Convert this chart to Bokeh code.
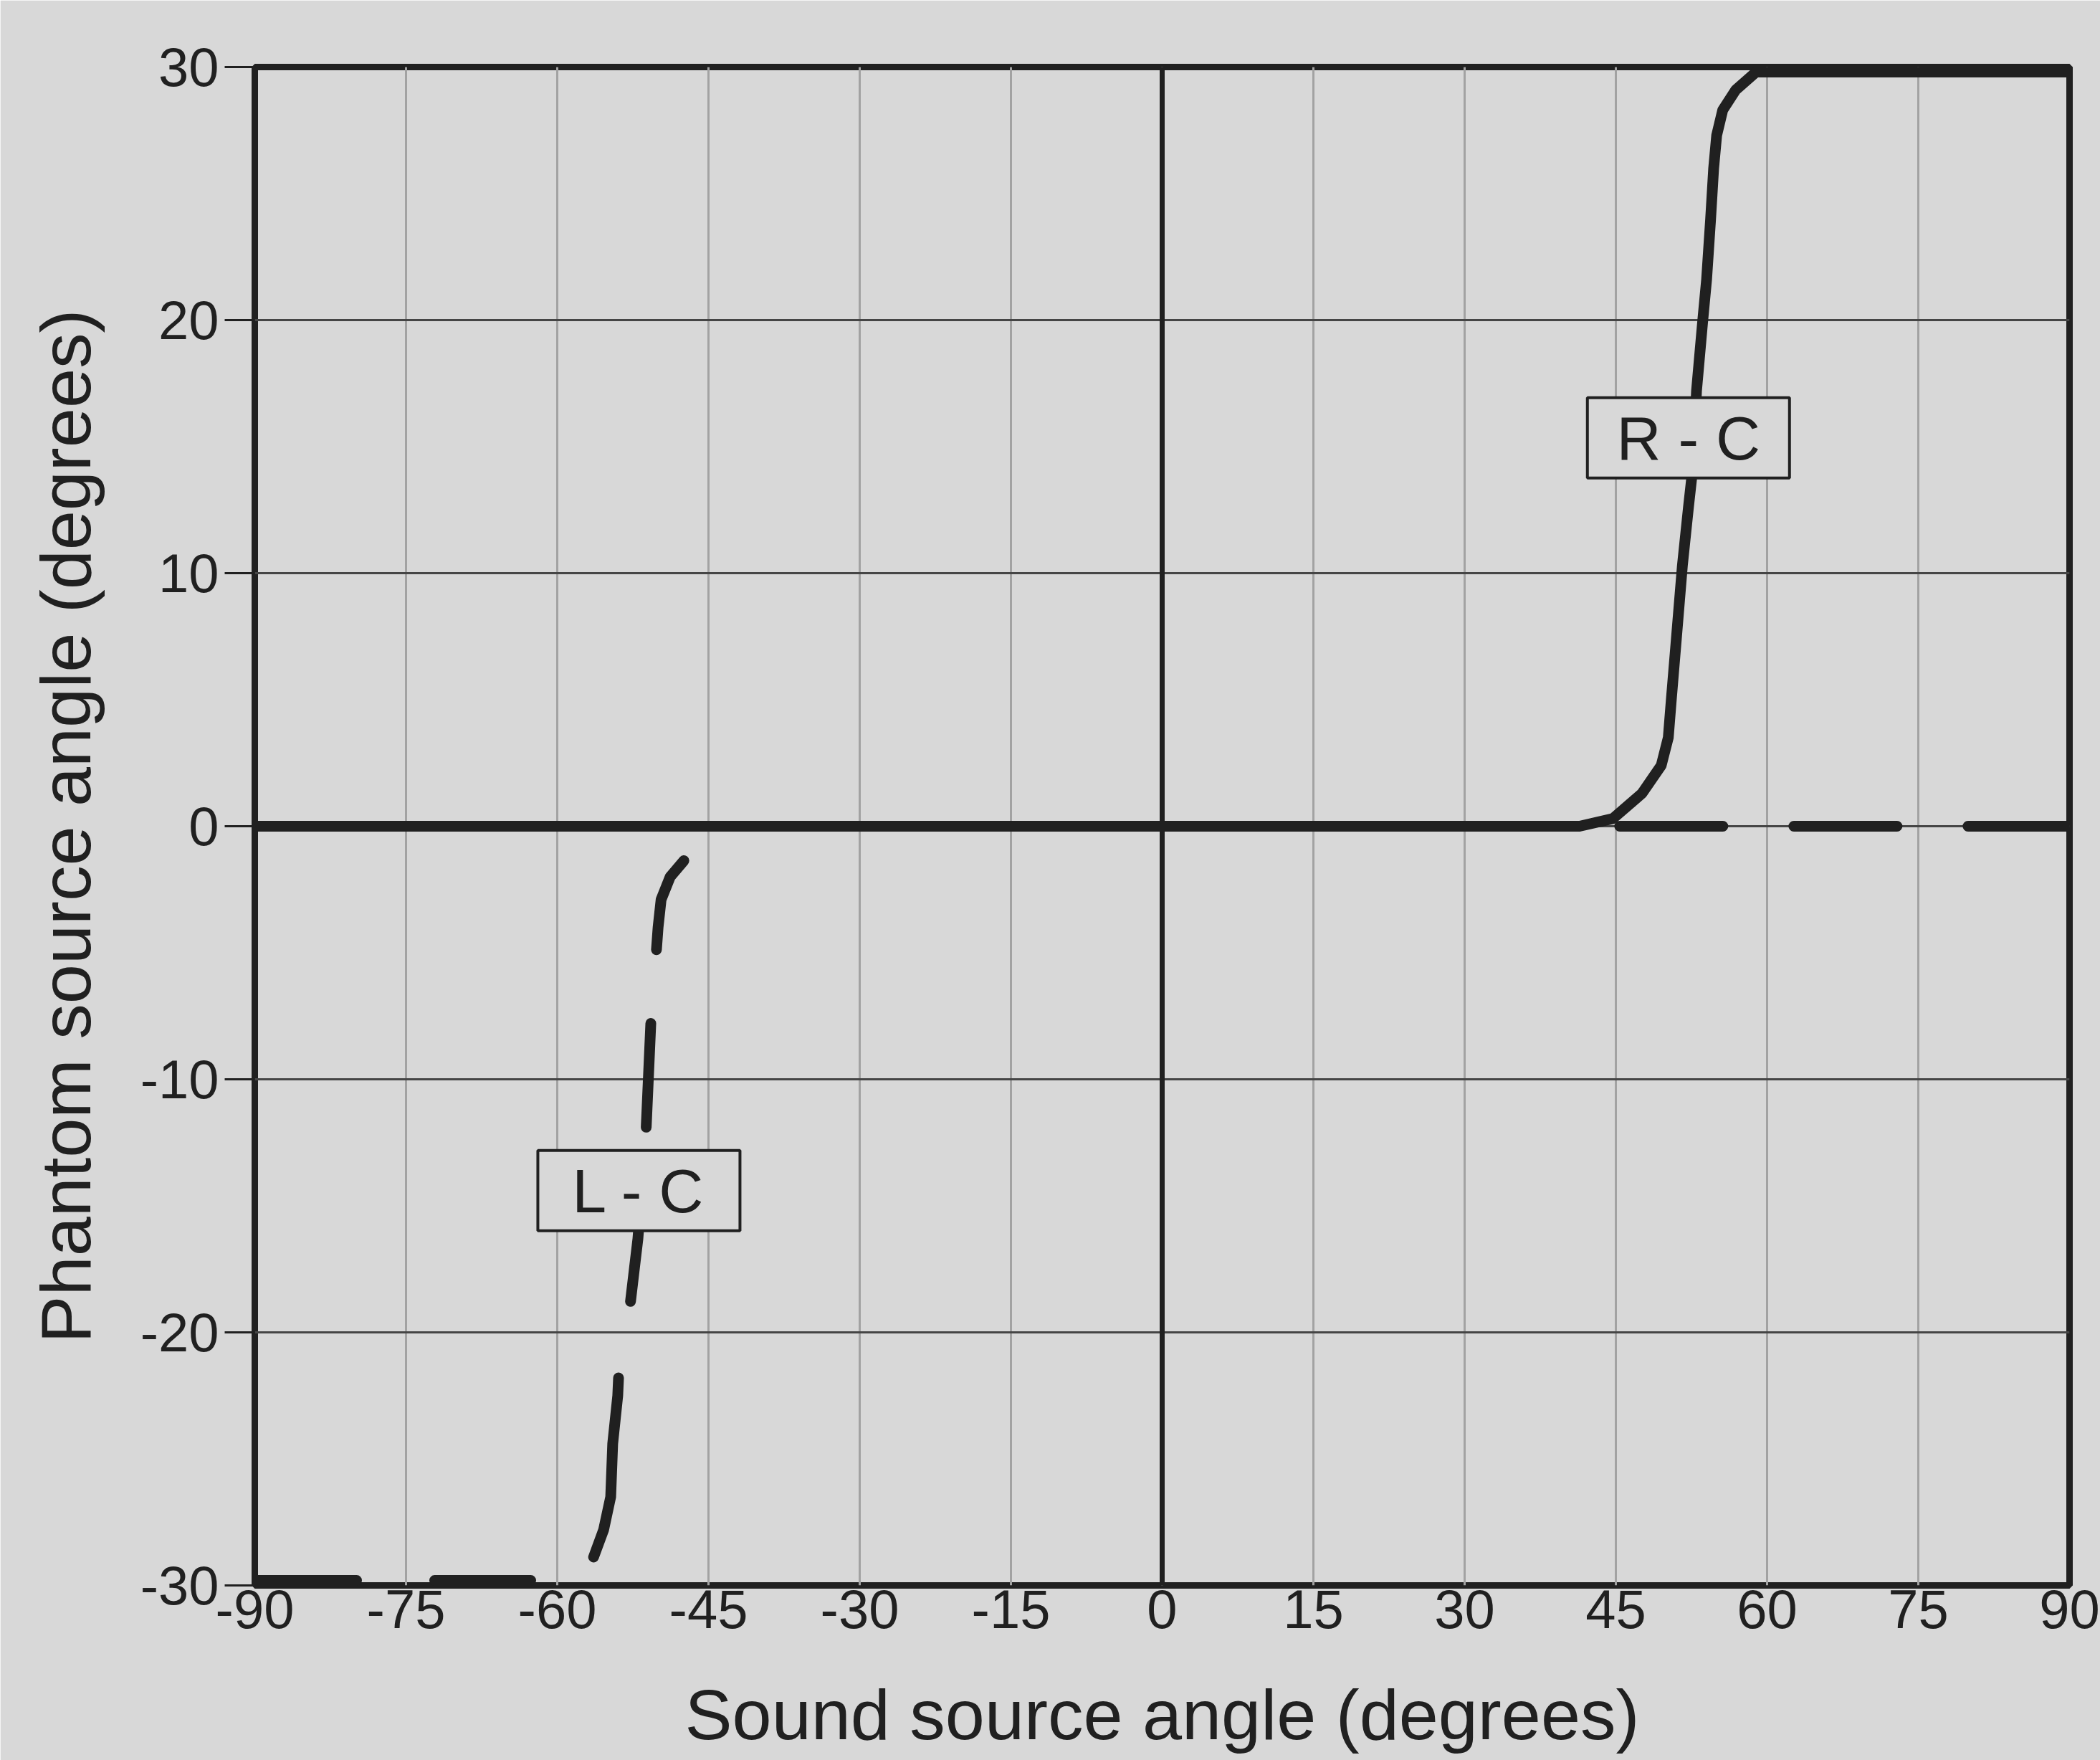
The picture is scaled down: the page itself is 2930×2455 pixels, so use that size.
from bokeh.plotting import figure
from bokeh.models import FixedTicker, Span, Range1d
from bokeh.core.properties import value
from bokeh.embed import file_html
from bokeh.resources import INLINE

# ---- data ----
x_ticks = [-90, -75, -60, -45, -30, -15, 0, 15, 30, 45, 60, 75, 90]
y_ticks = [-30, -20, -10, 0, 10, 20, 30]
x_tick_labels = ["-90", "-75", "-60", "-45", "-30", "-15", "0", "15", "30", "45", "60", "75", "90"]
y_tick_labels = ["-30", "-20", "-10", "0", "10", "20", "30"]

# R - C (solid)
rc_x = [-90, 41.4, 44.7, 47.6, 49.5, 50.2, 50.5, 51.0, 51.6, 52.2, 52.7, 53.0,
        53.6, 54.0, 54.4, 54.7, 55.0, 55.6, 56.9, 58.9, 90]
rc_y = [0, 0, 0.3, 1.3, 2.4, 3.5, 5.0, 7.4, 10.3, 12.6, 14.4, 17.2,
        19.9, 21.6, 24.0, 26.0, 27.3, 28.3, 29.1, 29.8, 29.8]

# L - C (dashed)
lc_x = [-90, -58.0, -56.6, -55.4, -54.7, -54.5, -54.0, -53.9, -52.8, -52.0,
        -51.2, -50.7, -50.2, -50.0, -49.7, -48.8, -47.1, -45.0, -43.0, 90]
lc_y = [-29.8, -29.8, -29.1, -27.8, -26.5, -24.4, -22.5, -21.6, -19.0, -16.3,
        -12.1, -7.6, -5.1, -4.0, -2.9, -2.0, -1.2, -0.4, 0.0, 0.0]

curve_names = ["R - C", "L - C"]

BG = "#d8d8d8"
INK = "#202020"
FONT = "Liberation Sans"

p = figure(width=2930, height=2455, output_backend="svg", toolbar_location=None,
           x_range=Range1d(-90, 90), y_range=Range1d(-30, 30),
           min_border_left=355, min_border_right=43,
           min_border_top=93, min_border_bottom=244)
p.title.visible = False
p.background_fill_color = BG
p.border_fill_color = BG
p.outline_line_color = INK
p.outline_line_width = 9

# axes
p.xaxis.ticker = FixedTicker(ticks=x_ticks)
p.yaxis.ticker = FixedTicker(ticks=y_ticks)
p.xaxis.major_label_overrides = dict(zip(x_ticks, x_tick_labels))
p.yaxis.major_label_overrides = dict(zip(y_ticks, y_tick_labels))
for ax in (p.xaxis[0], p.yaxis[0]):
    ax.axis_line_color = None
    ax.minor_tick_line_color = None
    ax.major_tick_in = 0
    ax.major_label_text_font = FONT
    ax.major_label_text_font_size = "76px"
    ax.major_label_text_color = INK
    ax.axis_label_text_font = FONT
    ax.axis_label_text_font_size = "99px"
    ax.axis_label_text_font_style = "normal"
    ax.axis_label_text_color = INK

p.xaxis.major_tick_out = 0
p.xaxis.major_label_standoff = 6
p.xaxis.axis_label = "Sound source angle (degrees)"
p.xaxis.axis_label_standoff = 62

p.yaxis.major_tick_out = 42
p.yaxis.major_tick_line_width = 3
p.yaxis.major_tick_line_color = INK
p.yaxis.major_label_standoff = 8
p.yaxis.axis_label = "Phantom source angle (degrees)"
p.yaxis.axis_label_standoff = 46

# grids
p.xgrid.ticker = FixedTicker(ticks=x_ticks)
p.xgrid.grid_line_color = "#a2a2a2"
p.xgrid.grid_line_width = 3
p.ygrid.ticker = FixedTicker(ticks=y_ticks)
p.ygrid.grid_line_color = "#454545"
p.ygrid.grid_line_width = 3

p.add_layout(Span(location=0, dimension="height", line_color=INK, line_width=7))

# curves (dash pattern follows the irregular dashes of the printed figure)
p.line(lc_x, lc_y, line_color=INK, line_width=15,
       line_dash="142 109 134 105 254 108 139 105 145 103 134 1323 144 99 144 99 200 1000",
       line_cap="round", line_join="round")
p.line(rc_x, rc_y, line_color=INK, line_width=15, line_cap="round", line_join="round")

# curve labels in boxes
label_x = [52.2, -51.9]
label_y = [15.35, -14.4]
p.rect(x=label_x, y=label_y, width=282, height=112, width_units="screen",
       height_units="screen", fill_color=BG, line_color=INK, line_width=4)
p.text(x=label_x, y=label_y, text=curve_names, text_align="center",
       text_baseline="middle", text_font=value(FONT), text_font_size="86px",
       text_color=INK)

open("out.html", "w").write(file_html(p, INLINE))
